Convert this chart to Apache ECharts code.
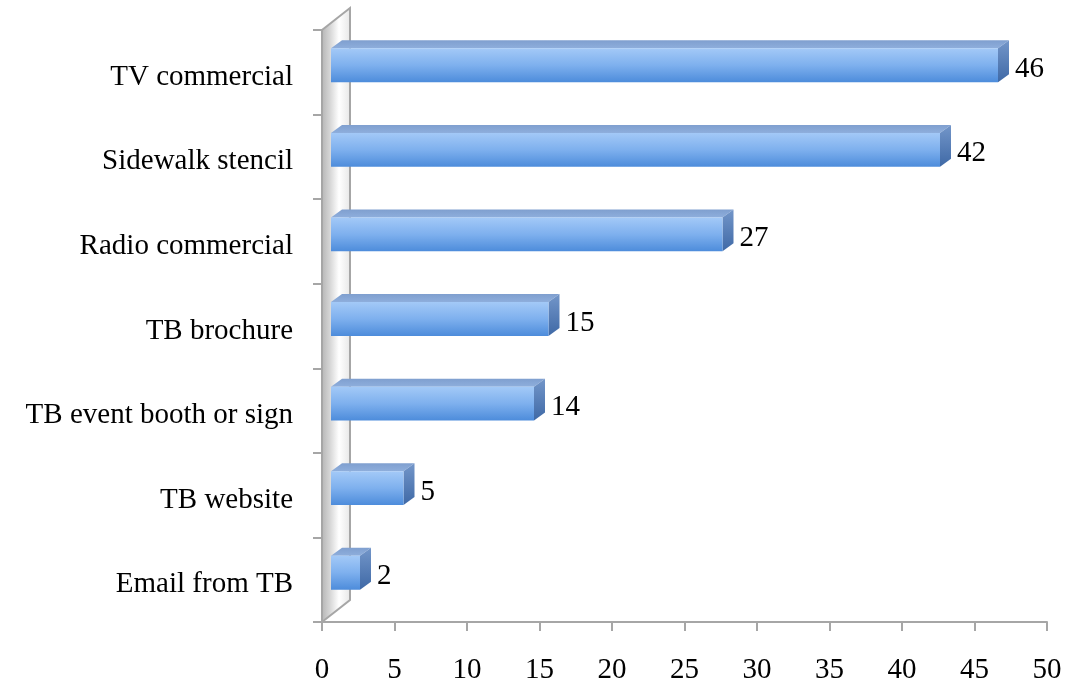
<!DOCTYPE html>
<html>
<head>
<meta charset="utf-8">
<script src="https://cdn.jsdelivr.net/npm/echarts@6/dist/echarts.min.js"></script>
<style>
  html, body { margin: 0; padding: 0; background: #ffffff; }
  #chart { width: 1072px; height: 688px; }
</style>
</head>
<body>
<div id="chart"></div>
<script>
// Survey answers: where respondents heard about TB
const categories = ['TV commercial', 'Sidewalk stencil', 'Radio commercial', 'TB brochure',
                    'TB event booth or sign', 'TB website', 'Email from TB'];
const values = [46, 42, 27, 15, 14, 5, 2];
const xMin = 0, xMax = 50, xStep = 5;

const FONT = 'Liberation Serif';
const AXIS_GRAY = '#a6a6a6';

// 3D projection: depth runs right and up
const WALL_DX = 28, WALL_DY = -22;   // full wall depth
const BAR_FX = 9, BAR_FY = -7;       // bar front face depth offset
const BAR_DX = 11, BAR_DY = -8;      // bar thickness in depth

const chart = echarts.init(document.getElementById('chart'), null, { renderer: 'canvas' });

function renderWall(params, api) {
  const cs = params.coordSys;
  const x0 = cs.x, yTop = cs.y, yBot = cs.y + cs.height;
  const pts = [[x0, yTop], [x0 + WALL_DX, yTop + WALL_DY], [x0 + WALL_DX, yBot + WALL_DY], [x0, yBot]];
  return {
    type: 'group',
    children: [
      {
        type: 'polygon',
        shape: { points: pts },
        style: {
          fill: new echarts.graphic.LinearGradient(0, 0, 1, 0, [
            { offset: 0, color: '#b3b3b3' },
            { offset: 0.3, color: '#d6d6d6' },
            { offset: 0.6, color: '#ffffff' },
            { offset: 1, color: '#e6e6e6' }
          ]),
          stroke: AXIS_GRAY,
          lineWidth: 2
        }
      }
    ]
  };
}

function renderBar(params, api) {
  const v = api.value(0);
  const c = api.value(1);
  const p0 = api.coord([0, c]);
  const p1 = api.coord([v, c]);
  const band = api.size([0, 1])[1];
  const half = band * 0.2;
  const left = p0[0] + BAR_FX;
  const right = p1[0] + BAR_FX;
  const top = p0[1] + BAR_FY - half;
  const bottom = p0[1] + BAR_FY + half;
  return {
    type: 'group',
    children: [
      {
        type: 'polygon',
        shape: { points: [[left, top], [left + BAR_DX, top + BAR_DY], [right + BAR_DX, top + BAR_DY], [right, top]] },
        style: {
          fill: new echarts.graphic.LinearGradient(0, 0, 0, 1, [
            { offset: 0, color: '#7f9fcf' },
            { offset: 1, color: '#8eaedc' }
          ])
        }
      },
      {
        type: 'polygon',
        shape: { points: [[right, top], [right + BAR_DX, top + BAR_DY], [right + BAR_DX, bottom + BAR_DY], [right, bottom]] },
        style: {
          fill: new echarts.graphic.LinearGradient(0, 0, 0, 1, [
            { offset: 0, color: '#7396c9' },
            { offset: 1, color: '#3f69a6' }
          ])
        }
      },
      {
        type: 'rect',
        shape: { x: left, y: top, width: right - left, height: bottom - top },
        style: {
          fill: new echarts.graphic.LinearGradient(0, 0, 0, 1, [
            { offset: 0, color: '#a3c9f7' },
            { offset: 0.5, color: '#7eb0ee' },
            { offset: 1, color: '#4d8cdb' }
          ])
        }
      },
      {
        type: 'text',
        style: {
          x: right + BAR_DX + 6,
          y: p0[1] - 3,
          text: String(v),
          fill: '#000000',
          font: '29px "' + FONT + '"',
          verticalAlign: 'middle',
          align: 'left'
        }
      }
    ]
  };
}

chart.setOption({
  animation: false,
  backgroundColor: '#ffffff',
  grid: { left: 322, right: 25, top: 30, bottom: 66, containLabel: false },
  xAxis: {
    type: 'value',
    min: xMin, max: xMax, interval: xStep,
    axisLine: { show: true, lineStyle: { color: AXIS_GRAY, width: 2 } },
    axisTick: { show: true, length: 9, lineStyle: { color: AXIS_GRAY, width: 2 } },
    splitLine: { show: false },
    axisLabel: { color: '#000000', fontFamily: FONT, fontSize: 29, margin: 34 }
  },
  yAxis: {
    type: 'category',
    data: categories,
    inverse: true,
    axisLine: { show: true, lineStyle: { color: AXIS_GRAY, width: 2 } },
    axisTick: { show: true, length: 9, lineStyle: { color: AXIS_GRAY, width: 2 } },
    axisLabel: {
      margin: 29,
      formatter: (name) => '{c|' + name + '}',
      rich: {
        c: { color: '#000000', fontFamily: FONT, fontSize: 29, padding: [10, 0, 0, 0] }
      }
    }
  },
  series: [
    {
      type: 'custom',
      silent: true,
      z: 1,
      renderItem: renderWall,
      data: [[0, 0]],
      encode: { x: 0, y: 1 }
    },
    {
      type: 'custom',
      silent: true,
      z: 3,
      renderItem: renderBar,
      data: values.map((v, i) => [v, i]),
      encode: { x: 0, y: 1 }
    }
  ]
});
</script>
</body>
</html>
